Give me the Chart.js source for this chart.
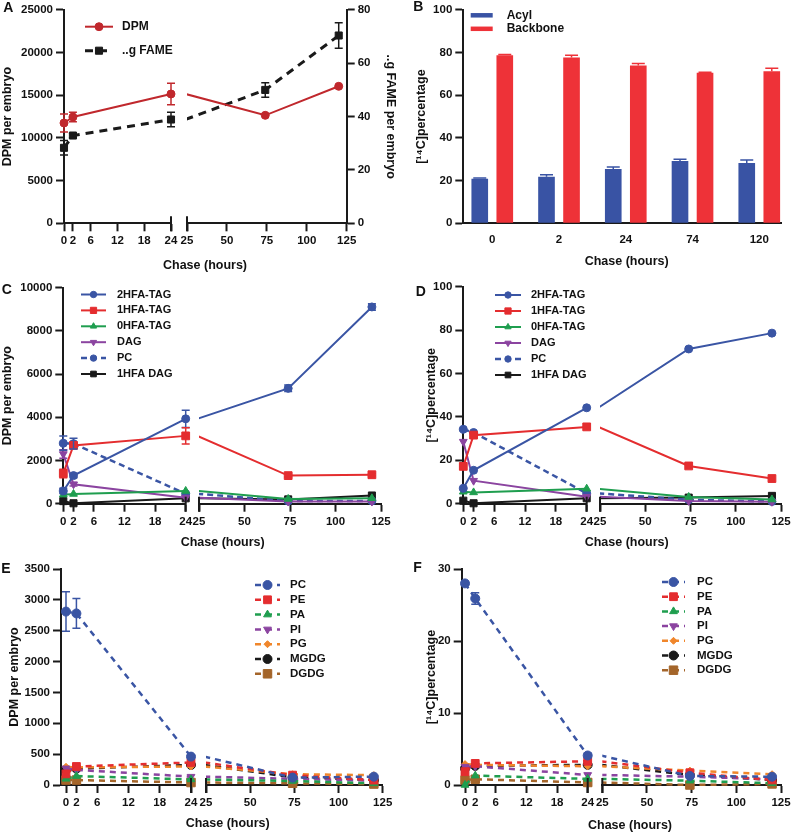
<!DOCTYPE html>
<html>
<head>
<meta charset="utf-8">
<script src="https://cdn.jsdelivr.net/npm/chart.js@4.4.1/dist/chart.umd.min.js"></script>
<style>
body{margin:0;background:#fff;}
#fig{position:relative;width:798px;height:832px;overflow:hidden;font-family:"Liberation Sans",Arial,sans-serif;color:#111;}
#fig canvas{position:absolute;}
.lab{position:absolute;font-weight:bold;line-height:1;transform:translate(-50%,-50%);white-space:nowrap;}
</style>
</head>
<body>
<div id="fig"></div>
<script>
// chase times and axis ticks
const hours = [0, 2, 24, 74, 120];
const leftHours = [0, 2, 6, 12, 18, 24];
const rightHours = [25, 50, 75, 100, 125];

// A
const dpmA = [11750, 12450, 15150, 12650, 16050];
const dpmErrA = [1050, 550, 1250, 0, 0];
const fameA = [28.3, 32.9, 38.9, 50.0, 70.4];
const fameErrA = [2.7, 0.8, 2.7, 2.7, 4.8];
const ticksA = [0, 5000, 10000, 15000, 20000, 25000];
const ticksA2 = [0, 20, 40, 60, 80];

// B
const chaseB = ['0', '2', '24', '74', '120'];
const acylB = [20.9, 21.8, 25.4, 29.2, 28.3];
const acylErrB = [0.3, 0.9, 1.0, 0.8, 1.4];
const backboneB = [78.8, 77.7, 73.9, 70.5, 71.3];
const backboneErrB = [0.3, 1.0, 1.0, 0.3, 1.4];
const ticksB = [0, 20, 40, 60, 80, 100];

// C (DPM per embryo)
const tag2C = [590, 1300, 3930, 5340, 9110];
const tag2ErrC = [120, 100, 400, 150, 150];
const tag1C = [1400, 2700, 3140, 1300, 1340];
const tag1ErrC = [200, 120, 380, 60, 60];
const tag0C = [420, 450, 590, 220, 250];
const dagC = [2300, 900, 280, 100, 100];
const dagErrC = [200, 80, 0, 0, 0];
const pcC = [2800, 2780, 460, 120, 130];
const pcErrC = [330, 250, 0, 0, 0];
const hdagC = [120, 20, 250, 200, 380];
const ticksC = [0, 2000, 4000, 6000, 8000, 10000];

// D (percentage)
const tag2D = [7.1, 15.4, 44.2, 71.3, 78.6];
const tag1D = [17.2, 31.6, 35.4, 17.4, 11.6];
const tag0D = [5.5, 5.2, 6.9, 3.1, 1.9];
const dagD = [28.6, 10.6, 3.2, 1.3, 0.9];
const pcD = [34.3, 32.8, 4.8, 1.8, 1.0];
const hdagD = [1.4, 0.2, 2.5, 2.8, 3.6];
const ticksD = [0, 20, 40, 60, 80, 100];

// E (DPM per embryo)
const pcE = [2810, 2780, 460, 120, 135];
const pcErrE = [320, 240, 30, 0, 0];
const peE = [180, 300, 365, 160, 80];
const paE = [100, 145, 90, 65, 27];
const piE = [270, 245, 135, 100, 70];
const pgE = [295, 285, 300, 175, 160];
const mgdgE = [245, 265, 325, 125, 80];
const dgdgE = [80, 80, 40, 28, 15];
const ticksE = [0, 500, 1000, 1500, 2000, 2500, 3000, 3500];

// F (percentage)
const pcF = [28.0, 25.9, 4.1, 1.25, 1.15];
const pcErrF = [0.3, 0.8, 0.3, 0, 0];
const peF = [1.85, 3.0, 3.3, 1.7, 0.7];
const paF = [0.0, 1.3, 0.85, 0.6, 0.25];
const piF = [2.55, 2.6, 1.4, 1.15, 0.8];
const pgF = [2.9, 2.8, 2.6, 2.0, 1.5];
const mgdgF = [2.3, 2.65, 2.8, 1.4, 0.7];
const dgdgF = [0.7, 0.8, 0.35, 0.0, 0.15];
const ticksF = [0, 10, 20, 30];

const INK = '#1a1a1a';
const BLUE = '#3a55a4', RED = '#e42d2f', GREEN = '#1f9e4f', PURPLE = '#8b44a0';
const ORANGE = '#f0862b', BROWN = '#a4652a', DPMRED = '#c0282d';
const X_H = 30;

Chart.defaults.font.family = '"Liberation Sans", Arial, sans-serif';
Chart.defaults.font.size = 11.5;
Chart.defaults.font.weight = 'bold';
Chart.defaults.color = '#111';

const fig = document.getElementById('fig');
function addCanvas(b) {
  const c = document.createElement('canvas');
  c.width = b.w; c.height = b.h;
  c.style.left = b.x + 'px'; c.style.top = b.y + 'px';
  c.style.width = b.w + 'px'; c.style.height = b.h + 'px';
  fig.appendChild(c);
  return c;
}
function addText(t, x, y, size) {
  const d = document.createElement('div');
  d.className = 'lab';
  d.textContent = t;
  d.style.left = x + 'px'; d.style.top = y + 'px'; d.style.fontSize = size + 'px';
  fig.appendChild(d);
}

// error bars from dataset.errors
const errorBars = {
  id: 'errorBars',
  afterDatasetsDraw(chart, args, o) {
    const ctx = chart.ctx, a = chart.chartArea;
    ctx.save();
    ctx.beginPath();
    ctx.rect(a.left - 10, a.top - 14, a.right - a.left + 20, a.bottom - a.top + 28);
    ctx.clip();
    chart.data.datasets.forEach((ds, i) => {
      if (!ds.errors) return;
      const meta = chart.getDatasetMeta(i);
      const xs = chart.scales[meta.xAxisID], ys = chart.scales[meta.yAxisID];
      ds.data.forEach((p, j) => {
        const e = ds.errors[j];
        if (!e || p.x < xs.min || p.x > xs.max) return;
        const el = meta.data[j];
        const top = ys.getPixelForValue(p.y + e);
        const bot = o.upOnly ? el.y : ys.getPixelForValue(p.y - e);
        const w = o.cap || 4;
        ctx.strokeStyle = ds.errColor || ds.borderColor;
        ctx.lineWidth = 1.5;
        ctx.beginPath();
        ctx.moveTo(el.x, top); ctx.lineTo(el.x, bot);
        ctx.moveTo(el.x - w, top); ctx.lineTo(el.x + w, top);
        if (!o.upOnly) { ctx.moveTo(el.x - w, bot); ctx.lineTo(el.x + w, bot); }
        ctx.stroke();
      });
    });
    ctx.restore();
  }
};

// legend drawn inside the plot, GraphPad style
const legendRows = {
  id: 'legendRows',
  afterDraw(chart, args, o) {
    if (!o || o.x === undefined) return;
    const ctx = chart.ctx;
    ctx.save();
    ctx.font = 'bold ' + o.size + 'px "Liberation Sans", Arial, sans-serif';
    ctx.textBaseline = 'middle';
    chart.data.datasets.forEach((ds, i) => {
      const y = o.y + i * o.dy;
      if (o.box) {
        ctx.fillStyle = ds.backgroundColor;
        ctx.fillRect(o.x, y - o.box / 2, o.len, o.box);
      } else {
        ctx.strokeStyle = ds.borderColor;
        ctx.lineWidth = ds.borderWidth;
        ctx.setLineDash(ds.borderDash || []);
        ctx.beginPath(); ctx.moveTo(o.x, y); ctx.lineTo(o.x + o.len, y); ctx.stroke();
        ctx.setLineDash([]);
        ctx.fillStyle = ds.borderColor; ctx.strokeStyle = ds.borderColor; ctx.lineWidth = 1;
        Chart.helpers.drawPoint(ctx, {pointStyle: ds.pointStyle, rotation: ds.pointRotation || 0,
          radius: ds.markR * (o.rScale || 1), borderWidth: 1}, o.x + o.len / 2, y);
      }
      ctx.fillStyle = '#111';
      ctx.fillText(ds.label, o.x + o.len + o.gap, y);
    });
    ctx.restore();
  }
};

// small vertical caps where the x axis is broken
const breakCaps = {
  id: 'breakCaps',
  afterDraw(chart, args, o) {
    if (!o || !o.side) return;
    const a = chart.chartArea, ctx = chart.ctx;
    const x = o.side === 'right' ? a.right : a.left;
    ctx.save();
    ctx.strokeStyle = INK; ctx.lineWidth = 2;
    ctx.beginPath(); ctx.moveTo(x, a.bottom - 7); ctx.lineTo(x, a.bottom + 8); ctx.stroke();
    ctx.restore();
  }
};

function xAxis(min, max, ticks) {
  return {
    type: 'linear', min: min, max: max, offset: false,
    afterBuildTicks: s => { s.ticks = ticks.map(v => ({value: v})); },
    afterFit: s => { s.height = X_H; },
    ticks: {autoSkip: false, maxRotation: 0, padding: 3, callback: v => v},
    grid: {drawOnChartArea: false, drawTicks: true, tickLength: 8, tickWidth: 2, tickColor: INK, offset: false},
    border: {display: true, color: INK, width: 2}
  };
}
function yAxis(max, ticks, width, title, pos) {
  return {
    type: 'linear', position: pos, min: 0, max: max,
    afterBuildTicks: s => { s.ticks = ticks.map(v => ({value: v})); },
    afterFit: s => { s.width = width; },
    ticks: {padding: 3, callback: v => v},
    grid: {drawOnChartArea: false, drawTicks: true, tickLength: 8, tickWidth: 2, tickColor: INK},
    border: {display: true, color: INK, width: 2},
    title: {display: true, text: title, padding: 0, color: '#111', font: {size: 12.5, weight: 'bold'}}
  };
}
function hiddenY(max, pos) {
  return {type: 'linear', display: false, min: 0, max: max, position: pos || 'left'};
}

function lineSets(series, side) {
  return series.map(s => ({
    label: s.label,
    data: hours.map((h, i) => ({x: h, y: s.values[i]})),
    errors: s.errors,
    yAxisID: s.axis || 'y',
    borderColor: s.color, backgroundColor: s.color,
    pointBackgroundColor: s.color, pointBorderColor: s.color, pointBorderWidth: 1,
    borderWidth: s.width, borderDash: s.dash || [],
    pointStyle: s.style, pointRotation: s.rot || 0, markR: s.r,
    pointRadius: c => {
      const x = c.raw ? c.raw.x : -1;
      return (side === 'L' ? x <= 24 : x >= 25) ? s.r : 0;
    },
    pointHoverRadius: 0, tension: 0,
    clip: side === 'L' ? {left: 10, top: 10, right: 10, bottom: 10} : {left: 0, top: 10, right: 10, bottom: 10},
    segment: side === 'L' ? {borderColor: c => (c.p1.parsed.x > 24 ? 'rgba(0,0,0,0)' : undefined)} : {}
  }));
}

function brokenPanel(P) {
  const padT = P.t - P.box.y, padB = P.box.y + P.box.h - P.b - X_H;
  const scalesL = {x: xAxis(P.xMin, 24, leftHours), y: yAxis(P.yMax, P.yTicks, P.yWidth, P.yTitle, 'left')};
  if (P.y2) scalesL.y2 = hiddenY(P.y2.max, 'right');
  new Chart(addCanvas(P.box), {
    type: 'line',
    data: {datasets: lineSets(P.series, 'L')},
    options: {
      responsive: false, animation: false, events: [],
      layout: {padding: {left: P.l - P.yWidth - P.box.x, right: P.box.x + P.box.w - P.lr, top: padT, bottom: padB}},
      scales: scalesL,
      plugins: {legend: {display: false}, tooltip: {enabled: false},
        legendRows: P.legend, breakCaps: {side: 'right'}, errorBars: {cap: 4}}
    },
    plugins: [errorBars, legendRows, breakCaps]
  });
  const scalesR = {x: xAxis(25, 125, rightHours), y: hiddenY(P.yMax)};
  let padR = P.box.x + P.box.w - P.r;
  if (P.y2) {
    scalesR.y2 = yAxis(P.y2.max, P.y2.ticks, P.y2.width, P.y2.title, 'right');
    padR -= P.y2.width;
  }
  new Chart(addCanvas(P.box), {
    type: 'line',
    data: {datasets: lineSets(P.series, 'R')},
    options: {
      responsive: false, animation: false, events: [],
      layout: {padding: {left: P.rl - P.box.x, right: padR, top: padT, bottom: padB}},
      scales: scalesR,
      plugins: {legend: {display: false}, tooltip: {enabled: false},
        breakCaps: {side: 'left'}, errorBars: {cap: 4}}
    },
    plugins: [errorBars, breakCaps]
  });
}

// ---- A ----
brokenPanel({
  box: {x: 0, y: 0, w: 400, h: 275}, t: 6.7, b: 223.3, l: 64, lr: 171, rl: 187, r: 346.7,
  yWidth: 63.5, yMax: 25000, yTicks: ticksA, yTitle: 'DPM per embryo', xMin: 0,
  y2: {max: 80, ticks: ticksA2, title: '..g FAME per embryo', width: 50.8},
  series: [
    {label: 'DPM', values: dpmA, errors: dpmErrA, color: DPMRED, width: 2, style: 'circle', r: 4},
    {label: '..g FAME', values: fameA, errors: fameErrA, color: INK, width: 3, dash: [8, 6], style: 'rect', r: 5, axis: 'y2'}
  ],
  legend: {x: 85, y: 26.7, dy: 24, len: 28, gap: 9, size: 12}
});

// ---- B ----
new Chart(addCanvas({x: 400, y: 0, w: 398, h: 275}), {
  type: 'bar',
  data: {datasets: [
    {label: 'Acyl', data: acylB.map((v, i) => ({x: i, y: v})), backgroundColor: '#3953a4', errors: acylErrB, errColor: '#3953a4'},
    {label: 'Backbone', data: backboneB.map((v, i) => ({x: i, y: v})), backgroundColor: '#ee3238', errors: backboneErrB, errColor: '#ee3238'}
  ]},
  options: {
    responsive: false, animation: false, events: [],
    layout: {padding: {left: 14.2, right: 16.3, top: 6.7, bottom: 21.7}},
    datasets: {bar: {categoryPercentage: 0.75, barPercentage: 0.665}},
    scales: {
      x: {type: 'linear', min: -0.434, max: 4.336, offset: false,
        afterBuildTicks: s => { s.ticks = chaseB.map((c, i) => ({value: i})); },
        afterFit: s => { s.height = X_H; },
        ticks: {autoSkip: false, maxRotation: 0, padding: 10, callback: v => chaseB[v]},
        grid: {drawOnChartArea: false, drawTicks: false, offset: false},
        border: {display: true, color: INK, width: 2}},
      y: yAxis(100, ticksB, 49.1, '[¹⁴C]percentage', 'left')
    },
    plugins: {legend: {display: false}, tooltip: {enabled: false},
      errorBars: {upOnly: true, cap: 6.5},
      legendRows: {x: 70.7, y: 15.3, dy: 13.5, len: 22, box: 4.5, gap: 14, size: 12}}
  },
  plugins: [errorBars, legendRows]
});

// ---- C / D ----
function seriesCD(v, e) {
  return [
    {label: '2HFA-TAG', values: v[0], errors: e[0], color: BLUE, width: 2, style: 'circle', r: 4},
    {label: '1HFA-TAG', values: v[1], errors: e[1], color: RED, width: 2, style: 'rect', r: 5.5},
    {label: '0HFA-TAG', values: v[2], errors: e[2], color: GREEN, width: 2, style: 'triangle', r: 4.5},
    {label: 'DAG', values: v[3], errors: e[3], color: PURPLE, width: 2, style: 'triangle', rot: 180, r: 4.5},
    {label: 'PC', values: v[4], errors: e[4], color: BLUE, width: 2.5, dash: [6, 4], style: 'circle', r: 4},
    {label: '1HFA DAG', values: v[5], errors: e[5], color: INK, width: 2, style: 'rect', r: 5}
  ];
}
brokenPanel({
  box: {x: 0, y: 275, w: 400, h: 277}, t: 287.7, b: 503.7, l: 63.3, lr: 185.7, rl: 199, r: 381,
  yWidth: 62.8, yMax: 10000, yTicks: ticksC, yTitle: 'DPM per embryo', xMin: 0,
  series: seriesCD([tag2C, tag1C, tag0C, dagC, pcC, hdagC], [tag2ErrC, tag1ErrC, null, dagErrC, pcErrC, null]),
  legend: {x: 81, y: 19.5, dy: 15.9, len: 25, gap: 11, size: 11, rScale: 0.8}
});
brokenPanel({
  box: {x: 400, y: 275, w: 398, h: 277}, t: 286.7, b: 503.7, l: 463.3, lr: 586.7, rl: 600, r: 781,
  yWidth: 39.1, yMax: 100, yTicks: ticksD, yTitle: '[¹⁴C]percentage', xMin: 0,
  series: seriesCD([tag2D, tag1D, tag0D, dagD, pcD, hdagD], [null, null, null, null, null, null]),
  legend: {x: 95, y: 20, dy: 16, len: 26, gap: 10, size: 11, rScale: 0.8}
});

// ---- E / F ----
function seriesEF(v, pcErr) {
  const d = [6, 5];
  return [
    {label: 'PC', values: v[0], errors: pcErr, color: BLUE, width: 2.5, dash: d, style: 'circle', r: 4.5},
    {label: 'PE', values: v[1], color: RED, width: 2.5, dash: d, style: 'rect', r: 5.5},
    {label: 'PA', values: v[2], color: GREEN, width: 2.5, dash: d, style: 'triangle', r: 4.5},
    {label: 'PI', values: v[3], color: PURPLE, width: 2.5, dash: d, style: 'triangle', rot: 180, r: 4.5},
    {label: 'PG', values: v[4], color: ORANGE, width: 2.5, dash: d, style: 'rectRot', r: 3.5},
    {label: 'MGDG', values: v[5], color: INK, width: 2.5, dash: d, style: 'circle', r: 4.5},
    {label: 'DGDG', values: v[6], color: BROWN, width: 2.5, dash: d, style: 'rect', r: 6}
  ];
}
brokenPanel({
  box: {x: 0, y: 552, w: 400, h: 280}, t: 569, b: 785, l: 61, lr: 191, rl: 206, r: 382.7,
  yWidth: 53.5, yMax: 3500, yTicks: ticksE, yTitle: 'DPM per embryo', xMin: -0.96,
  series: seriesEF([pcE, peE, paE, piE, pgE, mgdgE, dgdgE], pcErrE),
  legend: {x: 255, y: 33, dy: 14.8, len: 25, gap: 10, size: 11.5}
});
brokenPanel({
  box: {x: 400, y: 552, w: 398, h: 280}, t: 569, b: 785, l: 461.7, lr: 587.7, rl: 602.3, r: 781,
  yWidth: 37.5, yMax: 30, yTicks: ticksF, yTitle: '[¹⁴C]percentage', xMin: -0.65,
  series: seriesEF([pcF, peF, paF, piF, pgF, mgdgF, dgdgF], pcErrF),
  legend: {x: 262, y: 30, dy: 14.7, len: 23, gap: 12, size: 11.5}
});

// panel letters and shared x titles
addText('A', 8.3, 6.7, 14); addText('B', 418.3, 6, 14);
addText('C', 6.7, 289, 14); addText('D', 420.8, 291, 14);
addText('E', 5.8, 568.3, 14); addText('F', 417.5, 566.7, 14);
addText('Chase (hours)', 205, 265, 12.5);
addText('Chase (hours)', 626.7, 260.7, 12.5);
addText('Chase (hours)', 222.7, 541.7, 12.5);
addText('Chase (hours)', 626.7, 541.7, 12.5);
addText('Chase (hours)', 227.7, 822.7, 12.5);
addText('Chase (hours)', 630, 825, 12.5);
</script>
</body>
</html>
